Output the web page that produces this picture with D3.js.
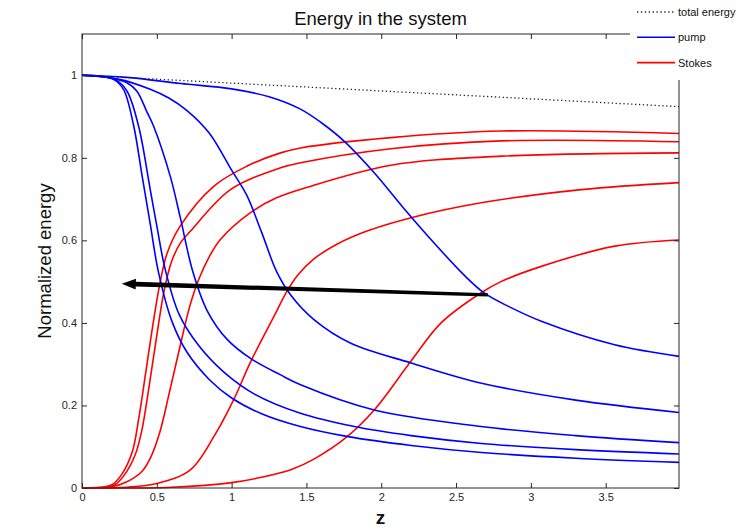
<!DOCTYPE html>
<html lang="en">
  <head>
    <meta charset="utf-8">
    <title>Energy in the system</title>
    <script src="https://d3js.org/d3.v7.min.js"></script>
    <style>
      body { margin: 0; background: #fff; }
      text { font-family: "Liberation Sans", Arial, sans-serif; }
    </style>
  </head>
  <body>
    <script>

  // width and height
  var w = 739;
  var h = 531;

  // pump curves, [z, energy], fastest depletion first
  var pump1 = [[0,1],[0.12,0.998],[0.21,0.99],[0.277,0.966],[0.344,0.88],[0.40,0.76],[0.456,0.64],[0.51,0.525],[0.60,0.405],[0.70,0.33],[0.85,0.263],[1.0,0.218],[1.2,0.18],[1.46,0.149],[1.77,0.125],[2.2,0.103],[2.67,0.086],[3.3,0.072],[3.99,0.062]];
  var pump2 = [[0,1],[0.12,0.998],[0.22,0.99],[0.30,0.962],[0.378,0.877],[0.456,0.723],[0.50,0.635],[0.556,0.53],[0.65,0.42],[0.78,0.345],[0.95,0.28],[1.15,0.228],[1.46,0.181],[1.82,0.149],[2.2,0.127],[2.67,0.108],[3.3,0.093],[3.99,0.0825]];
  var pump3 = [[0,1],[0.2,0.993],[0.30,0.982],[0.366,0.962],[0.433,0.912],[0.478,0.877],[0.59,0.755],[0.657,0.655],[0.74,0.525],[0.836,0.43],[0.97,0.36],[1.126,0.314],[1.327,0.274],[1.461,0.25],[1.953,0.189],[2.668,0.149],[3.3,0.127],[3.99,0.11]];
  var pump4 = [[0,1],[0.25,0.99],[0.456,0.966],[0.58,0.945],[0.70,0.915],[0.85,0.86],[1.0,0.77],[1.1,0.71],[1.2,0.62],[1.3,0.525],[1.4,0.465],[1.55,0.408],[1.8,0.35],[2.2,0.303],[2.67,0.254],[3.3,0.213],[3.99,0.183]];
  var pump5 = [[0,1],[0.3,0.995],[0.66,0.98],[1.0,0.967],[1.25,0.948],[1.46,0.918],[1.6,0.885],[1.75,0.841],[1.95,0.765],[2.15,0.678],[2.35,0.595],[2.556,0.515],[2.69,0.472],[2.85,0.44],[3.07,0.404],[3.56,0.347],[3.99,0.319]];

  // Stokes curves, same order
  var stokes1 = [[0,0],[0.15,0.003],[0.2,0.008],[0.26,0.03],[0.333,0.084],[0.38,0.17],[0.43,0.29],[0.48,0.41],[0.523,0.5],[0.57,0.57],[0.657,0.635],[0.88,0.731],[1.104,0.78],[1.327,0.812],[1.461,0.824],[2.064,0.849],[2.8,0.865],[3.99,0.859]];
  var stokes2 = [[0,0],[0.15,0.002],[0.22,0.008],[0.28,0.03],[0.355,0.08],[0.40,0.14],[0.45,0.25],[0.50,0.37],[0.55,0.48],[0.60,0.55],[0.66,0.595],[0.724,0.622],[0.992,0.723],[1.327,0.776],[1.461,0.788],[2.064,0.822],[2.8,0.841],[3.99,0.839]];
  var stokes3 = [[0,0],[0.2,0.003],[0.3,0.015],[0.4,0.04],[0.46,0.075],[0.52,0.135],[0.58,0.225],[0.65,0.335],[0.72,0.44],[0.78,0.505],[0.85,0.56],[0.925,0.602],[1.126,0.667],[1.3,0.703],[1.5,0.728],[2.064,0.782],[2.8,0.804],[3.99,0.812]];
  var stokes4 = [[0,0],[0.3,0.002],[0.5,0.011],[0.724,0.044],[0.89,0.13],[1.014,0.214],[1.126,0.305],[1.282,0.415],[1.372,0.478],[1.44,0.515],[1.55,0.555],[1.7,0.59],[1.9,0.622],[2.2,0.655],[2.668,0.691],[3.338,0.723],[3.99,0.74]];
  var stokes5 = [[0,0],[0.6,0.002],[1.0,0.013],[1.2,0.026],[1.4,0.045],[1.55,0.07],[1.774,0.125],[1.953,0.189],[2.198,0.307],[2.4,0.40],[2.668,0.473],[2.8,0.50],[3.07,0.537],[3.561,0.586],[3.99,0.601]];

  var totalEnergy = [[0,1],[1,0.981],[2,0.962],[3,0.943],[3.99,0.924]];

  // annotation arrow, tail -> tip
  var arrowFrom = [2.712, 0.468];
  var arrowTo = [0.266, 0.495];

  var xTicks = [0, 0.5, 1, 1.5, 2, 2.5, 3, 3.5];
  var yTicks = [0, 0.2, 0.4, 0.6, 0.8, 1];
  var legendLabels = ["total energy", "pump", "Stokes"];

  var pumps = [pump1, pump2, pump3, pump4, pump5];
  var stokes = [stokes1, stokes2, stokes3, stokes4, stokes5];

  // scales
  var xScale = d3.scaleLinear()
    .domain([0, 3.99])
    .range([82, 679]);

  var yScale = d3.scaleLinear()
    .domain([0, 1.1])
    .range([488, 34]);

  var axisColor = "#262626";

  var svg = d3.select("body")
    .append("svg")
    .attr("width", w)
    .attr("height", h)
    .style("display", "block");

  svg.append("rect")
    .attr("width", w)
    .attr("height", h)
    .attr("fill", "#fff");

  var line = d3.line()
    .x(d => xScale(d[0]))
    .y(d => yScale(d[1]))
    .curve(d3.curveCatmullRom.alpha(0.5));

  // curves
  svg.append("g")
    .selectAll("path")
    .data(stokes)
    .enter()
    .append("path")
    .attr("d", line)
    .attr("fill", "none")
    .attr("stroke", "#ff0000")
    .attr("stroke-width", 1.6);

  svg.append("g")
    .selectAll("path")
    .data(pumps)
    .enter()
    .append("path")
    .attr("d", line)
    .attr("fill", "none")
    .attr("stroke", "#0000ff")
    .attr("stroke-width", 1.6);

  svg.append("path")
    .datum(totalEnergy)
    .attr("d", d3.line().x(d => xScale(d[0])).y(d => yScale(d[1])))
    .attr("fill", "none")
    .attr("stroke", "#222")
    .attr("stroke-width", 1.3)
    .attr("stroke-dasharray", "1.3,2.6");

  // tapered arrow
  var ax0 = xScale(arrowFrom[0]), ay0 = yScale(arrowFrom[1]);
  var ax1 = xScale(arrowTo[0]), ay1 = yScale(arrowTo[1]);
  var len = Math.hypot(ax1 - ax0, ay1 - ay0);
  var ux = (ax1 - ax0) / len, uy = (ay1 - ay0) / len;
  var nx = -uy, ny = ux;
  var headLen = 14, headHalf = 5.5;
  var bx = ax1 - ux * headLen, by = ay1 - uy * headLen;
  var pts = [
    [ax0 + nx * 1.6, ay0 + ny * 1.6],
    [bx + nx * 2.4, by + ny * 2.4],
    [bx + nx * headHalf, by + ny * headHalf],
    [ax1, ay1],
    [bx - nx * headHalf, by - ny * headHalf],
    [bx - nx * 2.4, by - ny * 2.4],
    [ax0 - nx * 1.6, ay0 - ny * 1.6]
  ];
  svg.append("polygon")
    .attr("points", pts.map(p => p.join(",")).join(" "))
    .attr("fill", "#000");

  // axes, ticks pointing inward
  svg.append("g")
    .attr("transform", "translate(0," + yScale(0) + ")")
    .call(d3.axisBottom(xScale).tickValues(xTicks).tickFormat(d3.format("")).tickSizeInner(-5).tickSizeOuter(0).tickPadding(5));

  svg.append("g")
    .attr("transform", "translate(0," + yScale(1.1) + ")")
    .call(d3.axisTop(xScale).tickValues(xTicks).tickFormat("").tickSizeInner(-5).tickSizeOuter(0));

  svg.append("g")
    .attr("transform", "translate(" + xScale(0) + ",0)")
    .call(d3.axisLeft(yScale).tickValues(yTicks).tickFormat(d3.format("")).tickSizeInner(-5).tickSizeOuter(0).tickPadding(5));

  svg.append("g")
    .attr("transform", "translate(" + xScale(3.99) + ",0)")
    .call(d3.axisRight(yScale).tickValues(yTicks).tickFormat("").tickSizeInner(-5).tickSizeOuter(0));

  svg.selectAll(".domain").remove();
  svg.selectAll(".tick line").attr("stroke", axisColor);
  svg.selectAll(".tick text")
    .attr("fill", axisColor)
    .style("font-size", "11px")
    .style("font-family", "'Liberation Sans', Arial, sans-serif");

  svg.append("rect")
    .attr("x", xScale(0))
    .attr("y", yScale(1.1))
    .attr("width", xScale(3.99) - xScale(0))
    .attr("height", yScale(0) - yScale(1.1))
    .attr("fill", "none")
    .attr("stroke", axisColor)
    .attr("stroke-width", 1);

  // titles
  svg.append("text")
    .attr("x", (xScale(0) + xScale(3.99)) / 2)
    .attr("y", 25)
    .attr("text-anchor", "middle")
    .style("font-size", "18.5px")
    .attr("fill", "#111")
    .text("Energy in the system");

  svg.append("text")
    .attr("transform", "translate(51," + (yScale(0) + yScale(1.1)) / 2 + ") rotate(-90)")
    .attr("text-anchor", "middle")
    .style("font-size", "18.5px")
    .attr("fill", "#111")
    .text("Normalized energy");

  svg.append("text")
    .attr("x", (xScale(0) + xScale(3.99)) / 2)
    .attr("y", 524)
    .attr("text-anchor", "middle")
    .style("font-size", "19px")
    .style("font-weight", "bold")
    .attr("fill", "#111")
    .text("z");

  // legend, sitting over the top right corner of the axes
  var legend = svg.append("g");
  legend.append("rect")
    .attr("x", 630)
    .attr("y", 0)
    .attr("width", w - 630)
    .attr("height", 80)
    .attr("fill", "#fff");

  var legendStyles = [
    { stroke: "#222", dash: "1.3,2.6", width: 1.3 },
    { stroke: "#0000ff", dash: null, width: 1.6 },
    { stroke: "#ff0000", dash: null, width: 1.6 }
  ];

  var items = legend.selectAll(".item")
    .data(legendLabels)
    .enter()
    .append("g")
    .attr("class", "item")
    .attr("transform", (d, i) => "translate(0," + (12 + i * 25.3) + ")");

  items.append("line")
    .attr("x1", 637)
    .attr("x2", 675)
    .attr("stroke", (d, i) => legendStyles[i].stroke)
    .attr("stroke-width", (d, i) => legendStyles[i].width)
    .attr("stroke-dasharray", (d, i) => legendStyles[i].dash);

  items.append("text")
    .attr("x", 678)
    .attr("y", 4)
    .style("font-size", "11px")
    .attr("fill", "#111")
    .text(d => d);

    </script>
  </body>
</html>
